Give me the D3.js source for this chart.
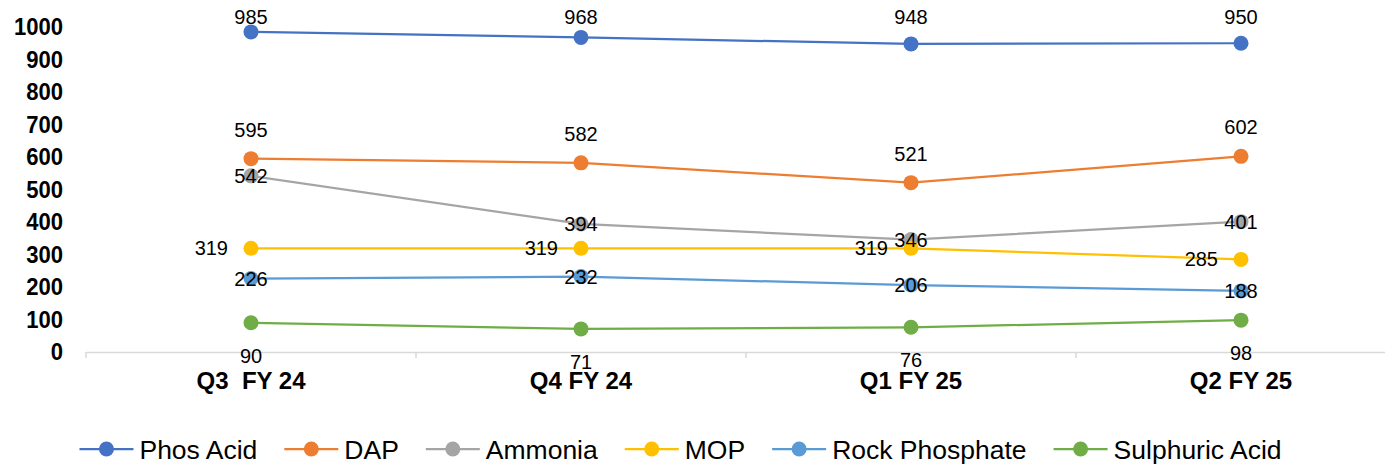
<!DOCTYPE html>
<html>
<head>
<meta charset="utf-8">
<script src="https://cdn.jsdelivr.net/npm/d3@7"></script>
<style>
  html, body { margin: 0; padding: 0; background: #fff; }
  svg { display: block; font-family: "Liberation Sans", Arial, sans-serif; }
</style>
</head>
<body>
<svg id="chart" width="1385" height="464"></svg>
<script>
const categories = ["Q3  FY 24", "Q4 FY 24", "Q1 FY 25", "Q2 FY 25"];
const seriesNames = ["Phos Acid", "DAP", "Ammonia", "MOP", "Rock Phosphate", "Sulphuric Acid"];
const phosAcid = [985, 968, 948, 950];
const dap = [595, 582, 521, 602];
const ammonia = [542, 394, 346, 401];
const mop = [319, 319, 319, 285];
const rockPhosphate = [226, 232, 206, 188];
const sulphuricAcid = [90, 71, 76, 98];
const yTicks = [0, 100, 200, 300, 400, 500, 600, 700, 800, 900, 1000];
const colors = ["#4472C4", "#ED7D31", "#A5A5A5", "#FFC000", "#5B9BD5", "#70AD47"];
const labelPos = ["above", "above", "center", "left", "center", "below"];

const seriesValues = [phosAcid, dap, ammonia, mop, rockPhosphate, sulphuricAcid];
const series = seriesNames.map((name, i) => ({ name, values: seriesValues[i], color: colors[i], pos: labelPos[i] }));

const svg = d3.select("#chart");
const x = d3.scaleBand().domain(categories).range([86, 1406]).paddingInner(0).paddingOuter(0);
const y = d3.scaleLinear().domain([0, 1000]).range([352, 27]);
const cx = c => x(c) + x.bandwidth() / 2;

// Y axis labels
const yAxis = d3.axisLeft(y).tickValues(yTicks).tickSize(0).tickPadding(0).tickFormat(d3.format("d"));
const yG = svg.append("g").attr("transform", "translate(63,0) scale(0.92,1)").call(yAxis);
yG.select(".domain").remove();
yG.selectAll("text").attr("font-size", 24).attr("font-weight", "bold").attr("fill", "#000")
  .attr("font-family", "'Liberation Sans', Arial, sans-serif");

// X axis
const xAxis = d3.axisBottom(x).tickSize(0).tickPadding(0);
const xG = svg.append("g").attr("transform", `translate(0,${y(0)})`).call(xAxis);
xG.select(".domain").attr("stroke", "#d9d9d9").attr("stroke-width", 1.5);
xG.selectAll("text").attr("font-size", 24).attr("font-weight", "bold").attr("fill", "#000")
  .attr("font-family", "'Liberation Sans', Arial, sans-serif")
  .attr("dy", null).attr("y", 37).style("white-space", "pre");
// band-edge tick marks
const edges = categories.map(c => x(c)).concat([x(categories[categories.length - 1]) + x.bandwidth()]);
svg.append("g").selectAll("line").data(edges).join("line")
  .attr("x1", d => d).attr("x2", d => d)
  .attr("y1", y(0)).attr("y2", y(0) + 6)
  .attr("stroke", "#d9d9d9").attr("stroke-width", 1.5);

// Lines & markers
const line = d3.line().x((d, i) => cx(categories[i])).y(d => y(d));
const sG = svg.append("g").selectAll("g").data(series).join("g");
sG.append("path").attr("d", d => line(d.values)).attr("fill", "none")
  .attr("stroke", d => d.color).attr("stroke-width", 2.25);
sG.selectAll("circle").data(d => d.values.map((v, i) => ({ v, i, color: d.color }))).join("circle")
  .attr("cx", d => cx(categories[d.i])).attr("cy", d => y(d.v)).attr("r", 7.5)
  .attr("fill", d => d.color);

// Data labels
const lG = svg.append("g");
series.forEach(s => {
  s.values.forEach((v, i) => {
    const px = cx(categories[i]), py = y(v);
    let tx = px, ty, anchor = "middle";
    if (s.pos === "above") ty = Math.max(py - 22, 24);
    else if (s.pos === "below") ty = py + 40;
    else if (s.pos === "left") { tx = px - 23; ty = py + 7; anchor = "end"; }
    else ty = py + 7;
    lG.append("text").attr("x", tx).attr("y", ty).attr("text-anchor", anchor)
      .attr("font-size", 20).attr("fill", "#000").text(v);
  });
});

// Legend
const legG = svg.append("g");
let lx = 0;
series.forEach(s => {
  const g = legG.append("g").attr("transform", `translate(${lx},0)`);
  g.append("line").attr("x1", 0).attr("x2", 54).attr("y1", 449).attr("y2", 449)
    .attr("stroke", s.color).attr("stroke-width", 2.25);
  g.append("circle").attr("cx", 27).attr("cy", 449).attr("r", 7.5).attr("fill", s.color);
  const t = g.append("text").attr("x", 60).attr("y", 459).attr("font-size", 26.5).attr("fill", "#000").text(s.name);
  const w = t.node().getComputedTextLength();
  lx += 60 + w + 27;
});
const totalW = lx - 27;
legG.attr("transform", `translate(${83 + (1278 - 83 - totalW) / 2},0)`);
</script>
</body>
</html>
